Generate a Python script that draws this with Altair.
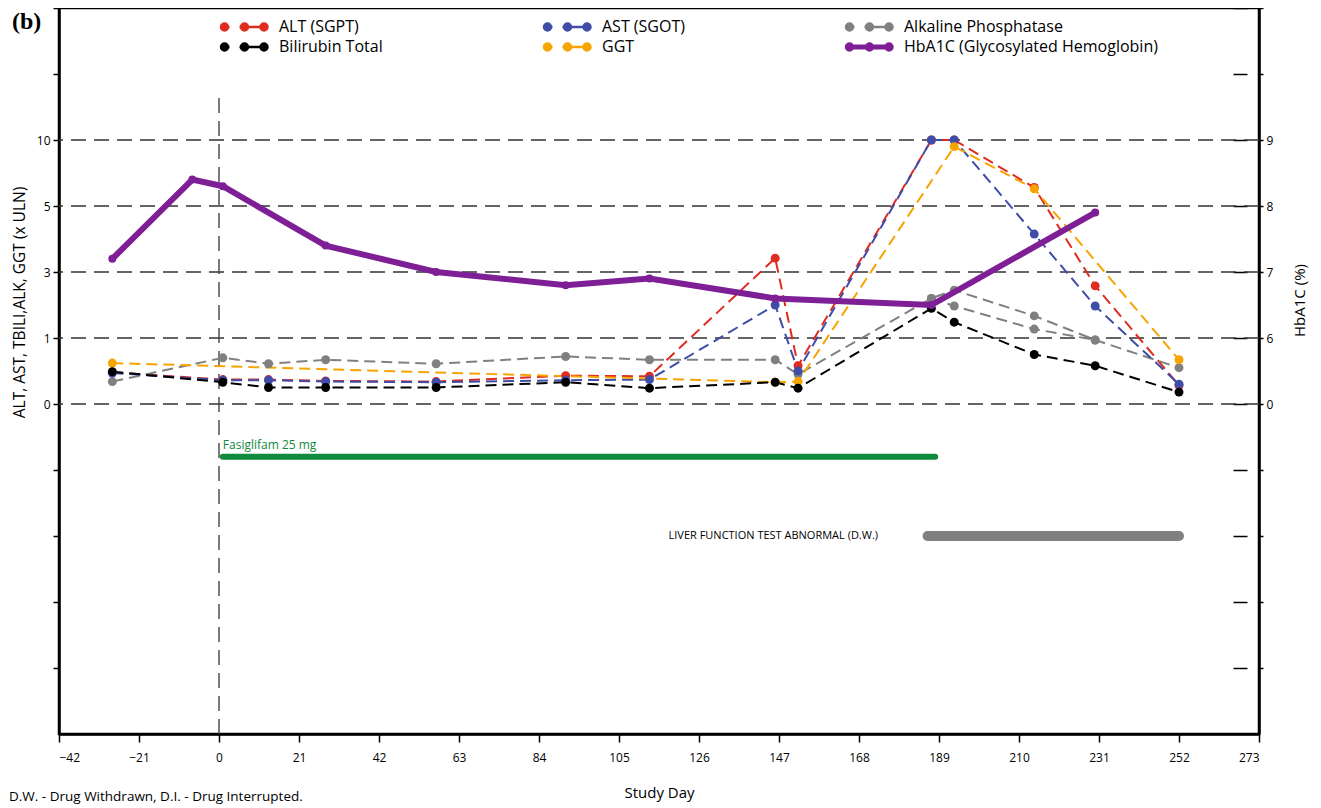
import altair as alt
import pandas as pd

# ---------------- data ----------------
# legend order: row 1 = ALT, AST, Alk Phos; row 2 = Bilirubin, GGT, HbA1C
series_names = ["ALT (SGPT)", "AST (SGOT)", "Alkaline Phosphatase",
                "Bilirubin Total", "GGT", "HbA1C (Glycosylated Hemoglobin)"]
series_colors = ["#e02b1f", "#3f4da8", "#808080", "#000000", "#f6a500", "#7e1f96"]

lab_days = [-28, 1, 13, 28, 57, 91, 113, 146, 152, 187, 193, 214, 230, 252]
alt_vals = [0.48, 0.37, 0.37, 0.35, 0.34, 0.43, 0.42, 3.42, 0.58, 10, 10, 6.4, 2.58, 0.28]
ast_vals = [0.47, 0.36, 0.36, 0.34, 0.33, 0.36, 0.37, 2.0, 0.50, 10, 10, 4.15, 1.97, 0.30]
bili_vals = [0.49, 0.33, 0.25, 0.25, 0.25, 0.33, 0.24, 0.33, 0.24, 1.9, 1.48, 0.75, 0.58, 0.18]
alp_vals = [0.34, 0.70, 0.61, 0.67, 0.61, 0.72, 0.67, 0.67, 0.45, 2.2, 2.45, 1.67, 0.97, 0.55]
alp2_days = [187, 193, 214, 230]
alp2_vals = [2.2, 1.97, 1.27, 0.97]
ggt_days = [-28, 146, 152, 193, 214, 252]
ggt_vals = [0.62, 0.33, 0.34, 9.5, 6.3, 0.67]
hba_days = [-28, -7, 1, 28, 57, 91, 113, 146, 187, 230]
hba_vals = [7.2, 8.4, 8.3, 7.4, 7.0, 6.8, 6.9, 6.6, 6.5, 7.9]

uln_grid = [0, 1, 3, 5, 10]
left_ticks = [-4, -3, -2, -1, 0, 1, 3, 5, 10, 15, 20]
right_ticks = [-4, -3, -2, -1, 0, 6, 7, 8, 9, 10, 11]
x_ticks = list(range(-42, 274, 21))

drug_label = ["Fasiglifam 25 mg"]
drug_span = [1, 188]
drug_level = [-0.8]
drug_text_level = [-0.62]
ae_label = ["LIVER FUNCTION TEST ABNORMAL (D.W.)"]
ae_span = [186, 252]
ae_level = [-2.0]
ae_text_x = [173]
day0_span = [-5, 13.2]

# ---------------- layout ----------------
W, H = 1200, 726
STEP = 66  # pixels per break on the broken y axes
left_domain = [-5, 0, 1, 3, 5, 10, 15, 20]
right_domain = [-5, 0, 6, 7, 8, 9, 10, 11]
break_units = [-5, 0, 1, 2, 3, 4, 5, 6]
y_range = [(6 - u) * STEP for u in break_units]

FONT = "Open Sans"

xs = alt.Scale(domain=[-42, 273], nice=False, zero=False)
ys = alt.Scale(type="linear", domain=left_domain, range=y_range, nice=False, zero=False)
rs = alt.Scale(type="linear", domain=right_domain, range=y_range, nice=False, zero=False)
rs2 = alt.Scale(type="linear", domain=right_domain, range=y_range, nice=False, zero=False)


def circ(cx, r):
    return f"M{cx - r},0A{r},{r} 0 1,0 {cx + r},0A{r},{r} 0 1,0 {cx - r},0Z"


R = 0.14
dash_sym = (circ(-0.8, R) + "M-0.8,0L-0.6,0M-0.2,0L0,0" + circ(0, R)
            + "M0,0L0.78,0" + circ(0.78, R))
solid_sym = ("M-0.8,-0.05L0.78,-0.05L0.78,0.05L-0.8,0.05Z" + circ(-0.8, R)
             + circ(0, R) + circ(0.78, R))
shape_range = [dash_sym] * 5 + [solid_sym]

stroke_scale = alt.Scale(domain=series_names, range=series_colors)
fill_scale = alt.Scale(domain=series_names, range=series_colors)
shape_scale = alt.Scale(domain=series_names, range=shape_range)

# ---------------- tables ----------------
rows = []
def add(series, path, days, vals):
    for d, v in zip(days, vals):
        rows.append({"series": series, "path": path, "day": d, "value": v})

add(series_names[0], "alt", lab_days, alt_vals)
add(series_names[2], "alp", lab_days, alp_vals)
add(series_names[2], "alp2", alp2_days, alp2_vals)
add(series_names[1], "ast", lab_days, ast_vals)
add(series_names[4], "ggt", ggt_days, ggt_vals)
add(series_names[3], "bili", lab_days, bili_vals)
lab_df = pd.DataFrame(rows)
lab_df["ord"] = range(len(lab_df))

hba_df = pd.DataFrame({"series": series_names[5], "day": hba_days, "value": hba_vals})
grid_df = pd.DataFrame({"v": uln_grid})
legend_df = pd.DataFrame({"series": series_names})
vline_df = pd.DataFrame({"day": [0], "y0": [day0_span[0]], "y1": [day0_span[1]]})
drug_df = pd.DataFrame({"label": drug_label, "start": [drug_span[0]], "end": [drug_span[1]],
                        "y": drug_level, "ty": drug_text_level})
ae_df = pd.DataFrame({"label": ae_label, "start": [ae_span[0]], "end": [ae_span[1]],
                      "y": ae_level, "tx": ae_text_x})

# ---------------- axes ----------------
left_axis = alt.Axis(values=left_ticks,
                     labelExpr="datum.value >= 0 && datum.value <= 10 ? datum.label : ''",
                     tickSize=6, labelPadding=3, labelFontSize=12,
                     title="ALT, AST, TBILI,ALK, GGT (x ULN)", titleFontSize=15.5,
                     titleFontWeight="normal", titleAngle=270, titleBaseline="bottom",
                     titleX=-32, titleY=294)
right_axis = alt.Axis(orient="right", values=right_ticks,
                      labelExpr="datum.value >= 0 && datum.value <= 9 ? datum.label : ''",
                      tickSize=4, labelPadding=3, labelFontSize=12,
                      title="HbA1C (%)", titleFontSize=15, titleFontWeight="normal",
                      titleAngle=270, titleBaseline="top", titleX=33, titleY=292)
right_inner_axis = alt.Axis(orient="right", values=right_ticks, offset=-26, tickSize=14,
                            labels=False, domain=False, title=None)
x_axis = alt.Axis(values=x_ticks, tickSize=8, labelPadding=10, labelFontSize=12,
                  title="Study Day", titleFontSize=15, titleFontWeight="normal",
                  titlePadding=22)

# ---------------- layers ----------------
grid = alt.Chart(grid_df).mark_rule(strokeDash=[15, 8], color="#333333", strokeWidth=1.4).encode(
    y=alt.Y("v:Q", scale=ys, axis=left_axis)
)

vline = alt.Chart(vline_df).mark_rule(strokeDash=[15, 8], color="#444444", strokeWidth=1.4).encode(
    x=alt.X("day:Q", scale=xs),
    y=alt.Y("y0:Q", scale=ys),
    y2="y1:Q",
)

lines = alt.Chart(lab_df).mark_line(strokeDash=[11, 6], strokeWidth=2).encode(
    x=alt.X("day:Q", scale=xs, axis=x_axis),
    y=alt.Y("value:Q", scale=ys),
    stroke=alt.Stroke("series:N", scale=stroke_scale),
    detail="path:N",
)

points = alt.Chart(lab_df).mark_circle(size=80, opacity=1).encode(
    x=alt.X("day:Q", scale=xs),
    y=alt.Y("value:Q", scale=ys),
    fill=alt.Fill("series:N", scale=fill_scale),
    order="ord:Q",
)

drug_bar = alt.Chart(drug_df).mark_rule(color="#108a3c", strokeWidth=6, strokeCap="round").encode(
    x=alt.X("start:Q", scale=xs), x2="end:Q",
    y=alt.Y("y:Q", scale=ys),
)
drug_text = alt.Chart(drug_df).mark_text(align="left", baseline="middle", color="#108a3c",
                                         font=FONT, fontSize=12).encode(
    x=alt.X("start:Q", scale=xs),
    y=alt.Y("ty:Q", scale=ys),
    text="label:N",
)
ae_bar = alt.Chart(ae_df).mark_rule(color="#808080", strokeWidth=10, strokeCap="round").encode(
    x=alt.X("start:Q", scale=xs), x2="end:Q",
    y=alt.Y("y:Q", scale=ys),
)
ae_text = alt.Chart(ae_df).mark_text(align="right", baseline="middle", color="black",
                                     font=FONT, fontSize=11).encode(
    x=alt.X("tx:Q", scale=xs),
    y=alt.Y("y:Q", scale=ys),
    text="label:N",
)

legend_layer = alt.Chart(legend_df).mark_point(opacity=0).encode(
    fill=alt.Fill("series:N", scale=fill_scale, title=None),
    stroke=alt.Stroke("series:N", scale=stroke_scale, title=None),
    shape=alt.Shape("series:N", scale=shape_scale, title=None,
                    legend=alt.Legend(title=None, symbolOpacity=1)),
)

hba_line = alt.Chart(hba_df).mark_line(strokeWidth=6).encode(
    x=alt.X("day:Q", scale=xs),
    y=alt.Y("value:Q", scale=rs, axis=right_axis),
    stroke=alt.Stroke("series:N", scale=stroke_scale),
)
hba_pts = alt.Chart(hba_df).mark_circle(size=64, opacity=1).encode(
    x=alt.X("day:Q", scale=xs),
    y=alt.Y("value:Q", scale=rs),
    fill=alt.Fill("series:N", scale=fill_scale),
)
# carries only the inner tick marks of the right-hand axis
inner_ticks = alt.Chart(hba_df).mark_point(opacity=0).encode(
    x=alt.X("day:Q", scale=xs),
    y=alt.Y("value:Q", scale=rs2, axis=right_inner_axis),
)

panel_label = alt.Chart(pd.DataFrame({"t": ["(b)"]})).mark_text(
    align="left", baseline="middle", font="Liberation Serif", fontSize=24, fontWeight="bold",
    color="black").encode(text="t:N", x=alt.value(-47), y=alt.value(14))
footnote = alt.Chart(pd.DataFrame({"t": ["D.W. - Drug Withdrawn, D.I. - Drug Interrupted."]})).mark_text(
    align="left", baseline="middle", font=FONT, fontSize=13.5, color="black").encode(
    text="t:N", x=alt.value(-50), y=alt.value(789))

left = alt.layer(grid, vline, lines, points, drug_bar, drug_text, ae_bar, ae_text,
                 legend_layer, panel_label, footnote)
right = alt.layer(hba_line, hba_pts)

chart = alt.layer(left, right, inner_ticks).resolve_scale(y="independent").properties(
    width=W, height=H,
    autosize=alt.AutoSizeParams(type="none"),
    padding={"left": 51, "top": 0, "right": 54, "bottom": 74},
).configure_view(
    stroke="black", strokeWidth=2.5
).configure_axis(
    domainColor="black", domainWidth=2.5, tickColor="black", tickWidth=1.5,
    labelColor="black", titleColor="black", labelFont=FONT, titleFont=FONT, grid=False,
).configure_legend(
    orient="none", legendX=159, legendY=9, columns=3, direction="horizontal",
    gridAlign="each", columnPadding=158, rowPadding=0, clipHeight=20, symbolSize=2500,
    symbolStrokeWidth=2.5, labelFont=FONT, labelFontSize=16, labelLimit=400,
    labelColor="black", labelOffset=8, padding=0, symbolOpacity=1,
)

chart.save("out.html", embed_options={"renderer": "svg", "actions": False})
